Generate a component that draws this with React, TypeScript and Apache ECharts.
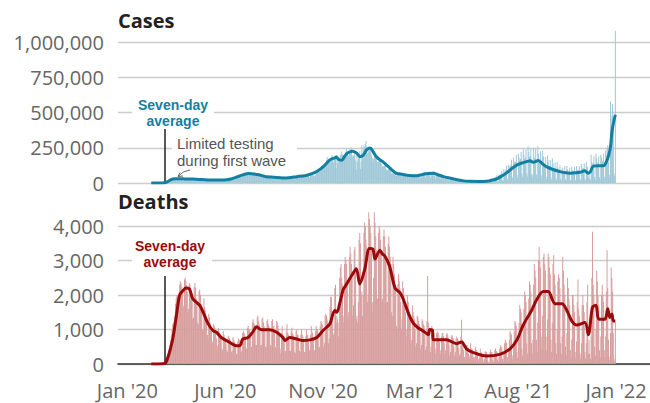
import React, { useEffect, useRef } from "react";
import * as echarts from "echarts";

// Day index = days since 1 Jan 2020. Daily rows are weeks running Wed..Tue.
const START_DAY = 63;
const X_MIN = 15;
const X_MAX = 783;
const MARK_DAY = 82;

const xLabelDays = [28.5, 170, 311, 452, 593, 734];
const xLabelTexts = ["Jan '20", "Jun '20", "Nov '20", "Mar '21", "Aug '21", "Jan '22"];

// Daily cases, thousands
const casesDailyK: number[][] = [
  [0.02, 0.03, 0.05, 0.07, 0.1, 0.15, 0.2],
  [0.3, 0.4, 0.6, 0.8, 1.0, 1.3, 1.7],
  [2.5, 3.5, 5, 6.5, 8, 9, 11],
  [11, 13, 17, 19, 19, 20, 25],
  [26, 29, 32, 33, 27, 26, 27],
  [30, 33, 35, 34, 28, 25, 27],
  [29, 31, 32, 30, 26, 26, 28],
  [27, 30, 34, 33, 28, 26, 25],
  [28, 29, 33, 29, 26, 23, 24],
  [26, 29, 30, 27, 25, 21, 22],
  [22, 27, 26, 25, 21, 20, 22],
  [22, 24, 25, 24, 20, 18, 19],
  [20, 22, 24, 24, 21, 18, 19],
  [19, 21, 24, 22, 19, 17, 19],
  [21, 23, 24, 25, 19, 17, 20],
  [23, 26, 27, 25, 20, 19, 25],
  [28, 31, 32, 32, 27, 26, 35],
  [38, 40, 42, 44, 36, 38, 45],
  [50, 55, 57, 50, 44, 42, 58],
  [58, 62, 68, 66, 58, 54, 64],
  [66, 74, 75, 68, 56, 56, 64],
  [68, 71, 78, 66, 55, 56, 64],
  [64, 62, 68, 60, 51, 54, 60],
  [55, 59, 64, 55, 46, 42, 49],
  [54, 52, 55, 52, 40, 38, 45],
  [47, 48, 49, 46, 36, 34, 40],
  [44, 45, 51, 44, 34, 32, 38],
  [42, 44, 48, 42, 31, 27, 26],
  [35, 40, 46, 38, 33, 36, 37],
  [37, 42, 48, 42, 33, 35, 43],
  [39, 45, 54, 46, 35, 36, 42],
  [43, 48, 50, 48, 37, 41, 46],
  [44, 51, 56, 50, 40, 42, 49],
  [54, 59, 63, 55, 47, 48, 57],
  [78, 88, 99, 83, 70, 84, 92],
  [103, 122, 128, 127, 106, 118, 137],
  [142, 162, 184, 167, 138, 156, 162],
  [172, 189, 196, 177, 143, 170, 180],
  [180, 105, 200, 150, 140, 160, 180],
  [196, 208, 225, 200, 170, 175, 190],
  [218, 225, 245, 215, 190, 195, 230],
  [245, 240, 250, 195, 185, 195, 200],
  [230, 160, 95, 225, 150, 170, 200],
  [225, 100, 150, 270, 210, 230, 260],
  [255, 275, 300, 255, 210, 215, 230],
  [230, 235, 240, 200, 175, 145, 170],
  [185, 195, 190, 170, 140, 150, 150],
  [155, 160, 165, 140, 110, 120, 115],
  [120, 123, 133, 100, 88, 90, 100],
  [95, 100, 103, 88, 65, 70, 70],
  [70, 68, 80, 70, 50, 55, 62],
  [72, 76, 78, 62, 48, 52, 62],
  [64, 68, 68, 58, 40, 45, 55],
  [58, 62, 62, 50, 36, 42, 52],
  [56, 60, 64, 42, 36, 45, 55],
  [58, 62, 70, 48, 35, 52, 58],
  [68, 70, 78, 55, 38, 60, 68],
  [72, 75, 82, 60, 35, 70, 75],
  [74, 78, 85, 50, 30, 70, 72],
  [63, 67, 72, 40, 28, 60, 55],
  [52, 55, 58, 30, 22, 48, 45],
  [42, 44, 48, 22, 18, 38, 36],
  [33, 35, 36, 16, 12, 30, 28],
  [26, 27, 29, 12, 8, 22, 24],
  [20, 20, 22, 8, 6, 10, 16],
  [16, 18, 20, 7, 5, 14, 14],
  [14, 15, 18, 5, 4, 13, 14],
  [13, 14, 16, 4, 3, 12, 13],
  [15, 17, 19, 5, 4, 15, 17],
  [18, 21, 22, 4, 2, 5, 32],
  [30, 32, 38, 8, 5, 40, 35],
  [40, 45, 55, 12, 8, 60, 48],
  [60, 65, 85, 20, 12, 100, 75],
  [85, 95, 125, 30, 20, 130, 110],
  [120, 130, 165, 45, 30, 180, 150],
  [140, 150, 200, 55, 35, 210, 180],
  [160, 170, 220, 65, 40, 240, 200],
  [170, 180, 240, 70, 45, 260, 220],
  [185, 190, 245, 65, 40, 60, 250],
  [175, 180, 245, 60, 35, 260, 210],
  [160, 165, 225, 55, 30, 230, 190],
  [135, 140, 185, 45, 25, 195, 160],
  [115, 120, 165, 40, 22, 175, 140],
  [100, 105, 145, 35, 20, 150, 110],
  [90, 95, 130, 30, 18, 100, 110],
  [82, 85, 120, 25, 16, 120, 95],
  [78, 80, 110, 22, 15, 115, 90],
  [80, 85, 115, 25, 15, 120, 95],
  [85, 92, 120, 28, 18, 135, 105],
  [98, 105, 140, 30, 20, 150, 115],
  [115, 40, 60, 30, 22, 200, 150],
  [135, 140, 190, 40, 25, 210, 175],
  [140, 145, 190, 40, 25, 200, 180],
  [150, 160, 210, 45, 30, 230, 200],
  [250, 270, 150, 60, 40, 580, 350],
  [480, 560, 450, 70, 50, 1080],
];

// Daily deaths
const deathsDaily: number[][] = [
  [0, 1, 1, 0, 1, 4, 1],
  [7, 6, 8, 6, 12, 8, 17],
  [8, 12, 18, 22, 28, 40, 55],
  [120, 170, 230, 290, 340, 420, 560],
  [700, 850, 1000, 1150, 1200, 1150, 1400],
  [1750, 1900, 2000, 1950, 1600, 1550, 2300],
  [2400, 2350, 2250, 2100, 1650, 1700, 2450],
  [2500, 2400, 2300, 2100, 1500, 1600, 2350],
  [2300, 2200, 2100, 1900, 1300, 1350, 2250],
  [2350, 2200, 1900, 1700, 1200, 1150, 2100],
  [2150, 2000, 1750, 1550, 1000, 1000, 1900],
  [1650, 1550, 1400, 1200, 850, 750, 1450],
  [1350, 1200, 1100, 950, 650, 600, 1150],
  [1100, 1050, 950, 750, 550, 500, 1050],
  [950, 900, 800, 700, 450, 400, 950],
  [850, 750, 700, 600, 400, 350, 800],
  [820, 750, 700, 600, 350, 380, 780],
  [700, 650, 600, 500, 300, 280, 650],
  [750, 700, 650, 550, 350, 400, 900],
  [950, 900, 850, 750, 450, 450, 1050],
  [1100, 1000, 1000, 850, 500, 500, 1200],
  [1300, 1200, 1150, 1050, 550, 550, 1350],
  [1400, 1250, 1150, 1000, 550, 550, 1300],
  [1350, 1200, 1100, 1000, 500, 500, 1250],
  [1300, 1150, 1100, 1000, 550, 500, 1250],
  [1300, 1100, 1100, 950, 500, 450, 1250],
  [1200, 1100, 1000, 900, 450, 300, 900],
  [1100, 850, 800, 700, 350, 380, 950],
  [1150, 900, 850, 700, 380, 380, 950],
  [1050, 900, 850, 700, 350, 320, 950],
  [1000, 850, 850, 700, 380, 330, 850],
  [1000, 850, 800, 650, 350, 330, 800],
  [1000, 850, 850, 650, 400, 420, 850],
  [1100, 950, 900, 700, 400, 400, 950],
  [1100, 1000, 1000, 850, 450, 500, 1100],
  [1250, 1200, 1150, 1000, 500, 600, 1400],
  [1450, 1400, 1300, 1200, 600, 750, 1650],
  [1950, 1950, 1500, 1400, 850, 900, 2200],
  [2300, 1200, 1400, 1300, 800, 1200, 2500],
  [2800, 2900, 2500, 2300, 1200, 1400, 2900],
  [3100, 3000, 2900, 2400, 1350, 1500, 3100],
  [3400, 3200, 2900, 2500, 1400, 1700, 3300],
  [3400, 2800, 1300, 1400, 1200, 1800, 3600],
  [3800, 3500, 2000, 2100, 1400, 2000, 3800],
  [4100, 4000, 3600, 3400, 1800, 2000, 4400],
  [4200, 4000, 3800, 3300, 1800, 1500, 2500],
  [4400, 4100, 3700, 3300, 1900, 1900, 3800],
  [4000, 3900, 3600, 3300, 1800, 1900, 3700],
  [3900, 3700, 3400, 3000, 1800, 1800, 3500],
  [3700, 3400, 3100, 2900, 1500, 1400, 3100],
  [2900, 2600, 2300, 2100, 1100, 1000, 2300],
  [2600, 2400, 2200, 1800, 1000, 1300, 2400],
  [2200, 2000, 1800, 1500, 800, 1000, 2000],
  [1800, 1600, 1500, 1250, 600, 700, 1700],
  [1500, 1400, 1300, 1000, 500, 600, 1400],
  [1350, 1250, 1150, 900, 450, 550, 1300],
  [1250, 1150, 1100, 850, 400, 500, 1250],
  [2550, 1200, 1000, 800, 350, 500, 1100],
  [1000, 1000, 900, 700, 300, 450, 900],
  [950, 900, 850, 650, 300, 400, 800],
  [900, 900, 800, 600, 300, 400, 850],
  [900, 850, 750, 550, 250, 350, 800],
  [850, 800, 750, 500, 250, 350, 750],
  [800, 750, 700, 450, 250, 300, 800],
  [1280, 700, 650, 400, 200, 150, 500],
  [550, 550, 500, 300, 150, 250, 600],
  [450, 450, 400, 200, 100, 200, 500],
  [400, 400, 350, 150, 80, 200, 450],
  [350, 320, 300, 120, 60, 150, 380],
  [330, 350, 300, 100, 40, 60, 350],
  [420, 350, 330, 120, 60, 200, 400],
  [450, 380, 350, 130, 70, 220, 430],
  [550, 500, 480, 150, 80, 300, 600],
  [700, 650, 600, 200, 100, 400, 700],
  [950, 900, 850, 250, 130, 550, 950],
  [1250, 1200, 1100, 350, 180, 700, 1200],
  [1700, 1600, 1500, 450, 250, 1000, 1600],
  [2100, 2000, 1800, 600, 300, 1200, 1900],
  [2400, 2300, 2100, 600, 300, 700, 2300],
  [2900, 2700, 2500, 700, 350, 1200, 3000],
  [3400, 3000, 2800, 800, 400, 1400, 3100],
  [3200, 2900, 2700, 800, 400, 1300, 3200],
  [3100, 2800, 2600, 700, 350, 1200, 2900],
  [3150, 2600, 2300, 600, 300, 1000, 2400],
  [2600, 2500, 2200, 600, 300, 800, 3100],
  [2700, 2300, 2000, 500, 250, 900, 2500],
  [2200, 1900, 1700, 400, 200, 700, 2000],
  [2000, 1700, 1500, 350, 180, 650, 1800],
  [2450, 1600, 1400, 300, 150, 600, 1700],
  [2000, 1700, 1500, 350, 150, 600, 1800],
  [2300, 300, 700, 300, 150, 800, 2500],
  [3830, 2300, 2000, 500, 250, 1000, 2700],
  [2400, 2000, 1700, 400, 200, 800, 2000],
  [2300, 2000, 1800, 400, 200, 800, 2100],
  [3300, 2200, 700, 200, 100, 900, 2800],
  [2500, 2100, 900, 150, 80, 1200],
];

// Seven-day averages: [day, value]
const casesAvgDays = [63, 80, 86, 92, 98, 105, 112, 120, 128, 136, 145, 155, 165, 172, 178, 185, 192, 199, 203, 210, 218, 229, 240, 253, 262, 273, 285, 296, 303, 311, 318, 321, 328, 330, 334, 338, 343, 347, 354, 360, 364, 369, 374, 379, 383, 388, 393, 398, 408, 417, 425, 432, 440, 446, 456, 463, 470, 477, 485, 494, 504, 514, 523, 535, 547, 555, 562, 569, 576, 583, 590, 597, 605, 610, 614, 617, 622, 628, 634, 643, 653, 662, 668, 676, 682, 689, 694, 697, 701, 708, 716, 720, 723, 726, 728, 730, 733];
const casesAvgK = [0, 0.2, 8, 25, 30, 31, 29, 28, 27, 24, 22, 21, 21, 23, 28, 40, 52, 64, 68, 64, 58, 45, 41, 36, 38, 45, 52, 68, 85, 115, 150, 165, 178, 185, 165, 162, 195, 215, 226, 210, 186, 198, 235, 248, 225, 186, 165, 148, 103, 68, 62, 55, 52, 52, 62, 67, 70, 58, 45, 35, 24, 15, 12, 11, 13, 20, 30, 50, 72, 100, 125, 140, 152, 158, 148, 150, 160, 135, 114, 96, 81, 72, 70, 72, 76, 86, 70, 80, 120, 122, 122, 150, 190, 260, 360, 420, 484];

const deathsAvgDays = [63, 80, 84, 88, 94, 100, 104, 109, 113, 118, 123, 133, 140, 145, 152, 157, 164, 176, 186, 191, 195, 203, 210, 215, 222, 234, 244, 253, 256, 263, 273, 282, 292, 302, 311, 318, 321, 328, 331, 335, 340, 343, 352, 359, 364, 371, 378, 383, 386, 393, 397, 400, 407, 415, 422, 427, 434, 441, 448, 456, 463, 465, 469, 470, 489, 504, 511, 518, 528, 547, 566, 581, 591, 600, 612, 619, 629, 636, 646, 656, 663, 670, 677, 689, 694, 700, 705, 709, 718, 722, 725, 728, 730, 733];
const deathsAvg = [0, 5, 40, 250, 725, 1500, 2000, 2130, 2200, 2180, 1890, 1700, 1400, 1170, 970, 920, 770, 630, 530, 530, 720, 770, 940, 1080, 990, 990, 920, 770, 680, 770, 725, 680, 700, 770, 970, 1100, 1160, 1550, 1500, 1750, 2150, 2250, 2550, 2760, 2320, 2730, 3350, 3330, 3040, 3300, 3180, 3140, 2840, 2200, 2070, 1870, 1480, 1190, 1050, 950, 850, 1000, 970, 700, 700, 590, 640, 440, 330, 230, 280, 440, 700, 1130, 1550, 1850, 2100, 2100, 1750, 1750, 1550, 1250, 1130, 1200, 850, 1650, 1700, 1300, 1300, 1600, 1350, 1450, 1250, 1250];

const casesTicks = [0, 250000, 500000, 750000, 1000000];
const deathsTicks = [0, 1000, 2000, 3000, 4000];

const FONT = "'Open Sans', 'Noto Sans', sans-serif";
const NOTE_FONT = "'Liberation Sans', Arial, sans-serif";
const CASES_COLOR = "#1380a1";
const DEATHS_COLOR = "#9b0a0a";

export default function App() {
  const ref = useRef<HTMLDivElement>(null);

  useEffect(() => {
    if (!ref.current) return;
    const chart = echarts.init(ref.current, null, { renderer: "svg" });

    const casesBars = casesDailyK.flat().map((v, i) => [START_DAY + i, v * 1000]);
    const deathsBars = deathsDaily.flat().map((v, i) => [START_DAY + i, v]);
    const casesLine = casesAvgDays.map((d, i) => [d, casesAvgK[i] * 1000]);
    const deathsLine = deathsAvgDays.map((d, i) => [d, deathsAvg[i]]);

    const yLabel = {
      fontSize: 20,
      color: "#666",
      fontFamily: FONT,
      margin: 14,
      formatter: (v: number) => v.toLocaleString("en-US"),
    };
    const split = { show: true, lineStyle: { color: "#cccccc", width: 1.3 } };

    const note = (text: string, x: number, y: number, fill: string, bold: boolean, align: string, size: number) => ({
      type: "text",
      z: 51,
      x,
      y,
      style: {
        text,
        font: `${bold ? "bold " : ""}${size}px ${NOTE_FONT}`,
        fill,
        textAlign: align,
        textVerticalAlign: "middle",
      },
    });

    const option: any = {
      animation: false,
      grid: [
        { left: 118, right: 0, top: 42, height: 141 },
        { left: 118, right: 0, top: 226, height: 138 },
      ],
      xAxis: [
        { gridIndex: 0, type: "value", min: X_MIN, max: X_MAX, show: false },
        {
          gridIndex: 1,
          type: "value",
          min: X_MIN,
          max: X_MAX,
          axisLine: { show: true, onZero: true, lineStyle: { color: "#333", width: 1.6 } },
          axisTick: { show: false },
          splitLine: { show: false },
          axisLabel: {
            customValues: xLabelDays,
            fontSize: 20,
            color: "#666",
            fontFamily: FONT,
            margin: 16,
            formatter: (v: number) => {
              const idx = xLabelDays.indexOf(v);
              return idx >= 0 ? xLabelTexts[idx] : "";
            },
          },
        },
      ],
      yAxis: [
        {
          gridIndex: 0,
          type: "value",
          min: 0,
          max: 1000000,
          interval: 250000,
          axisLine: { show: false },
          axisTick: { show: false },
          splitLine: split,
          axisLabel: { ...yLabel, customValues: casesTicks },
        },
        {
          gridIndex: 1,
          type: "value",
          min: 0,
          max: 4000,
          interval: 1000,
          axisLine: { show: false },
          axisTick: { show: false },
          splitLine: split,
          axisLabel: { ...yLabel, customValues: deathsTicks },
        },
      ],
      series: [
        {
          type: "bar",
          xAxisIndex: 0,
          yAxisIndex: 0,
          data: casesBars,
          barWidth: "70%",
          clip: false,
          itemStyle: { color: "#9fc8d7" },
          silent: true,
          markLine: {
            silent: true,
            symbol: "none",
            label: { show: false },
            lineStyle: { color: "#222", width: 1.5, type: "solid" },
            data: [[{ coord: [MARK_DAY, 0] }, { coord: [MARK_DAY, 385000] }]],
          },
        },
        {
          type: "line",
          xAxisIndex: 0,
          yAxisIndex: 0,
          data: casesLine,
          showSymbol: false,
          smooth: 0.3,
          lineStyle: { color: CASES_COLOR, width: 3 },
          silent: true,
          z: 5,
        },
        {
          type: "bar",
          xAxisIndex: 1,
          yAxisIndex: 1,
          data: deathsBars,
          barWidth: "62%",
          clip: false,
          itemStyle: { color: "#d79d9d" },
          silent: true,
          markLine: {
            silent: true,
            symbol: "none",
            label: { show: false },
            lineStyle: { color: "#222", width: 1.5, type: "solid" },
            data: [[{ coord: [MARK_DAY, 0] }, { coord: [MARK_DAY, 2550] }]],
          },
        },
        {
          type: "line",
          xAxisIndex: 1,
          yAxisIndex: 1,
          data: deathsLine,
          showSymbol: false,
          smooth: 0.3,
          lineStyle: { color: DEATHS_COLOR, width: 3 },
          silent: true,
          z: 5,
        },
      ],
      graphic: [
        {
          type: "text",
          left: 118,
          top: 10,
          style: { text: "Cases", font: `bold 20px ${FONT}`, fill: "#222" },
        },
        {
          type: "text",
          left: 118,
          top: 191,
          style: { text: "Deaths", font: `bold 20px ${FONT}`, fill: "#222" },
        },
        // Cases annotation
        { type: "rect", z: 50, shape: { x: 132, y: 97, width: 82, height: 32 }, style: { fill: "#fff" } },
        note("Seven-day", 173, 104.5, CASES_COLOR, true, "center", 14),
        note("average", 173, 120.5, CASES_COLOR, true, "center", 14),
        { type: "rect", z: 50, shape: { x: 172, y: 134, width: 125, height: 35 }, style: { fill: "#fff" } },
        note("Limited testing", 177, 143, "#555", false, "left", 15),
        note("during first wave", 177, 160, "#555", false, "left", 15),
        {
          type: "bezierCurve",
          z: 51,
          shape: { x1: 190, y1: 170, x2: 178, y2: 176.5, cpx1: 183, cpy1: 170.5 },
          style: { stroke: "#666", lineWidth: 1, fill: "none" },
        },
        {
          type: "polyline",
          z: 51,
          shape: { points: [[180, 172.5], [178, 176.5], [183, 176]] },
          style: { stroke: "#666", lineWidth: 1, fill: "none" },
        },
        // Deaths annotation
        { type: "rect", z: 50, shape: { x: 132, y: 238, width: 80, height: 31 }, style: { fill: "#fff" } },
        note("Seven-day", 170, 245.8, DEATHS_COLOR, true, "center", 14),
        note("average", 170, 261.8, DEATHS_COLOR, true, "center", 14),
      ],
    };

    chart.setOption(option);
    return () => chart.dispose();
  }, []);

  return (
    <div
      ref={ref}
      style={{ position: "fixed", left: 0, top: 0, width: 650, height: 403, background: "#fff" }}
    />
  );
}
